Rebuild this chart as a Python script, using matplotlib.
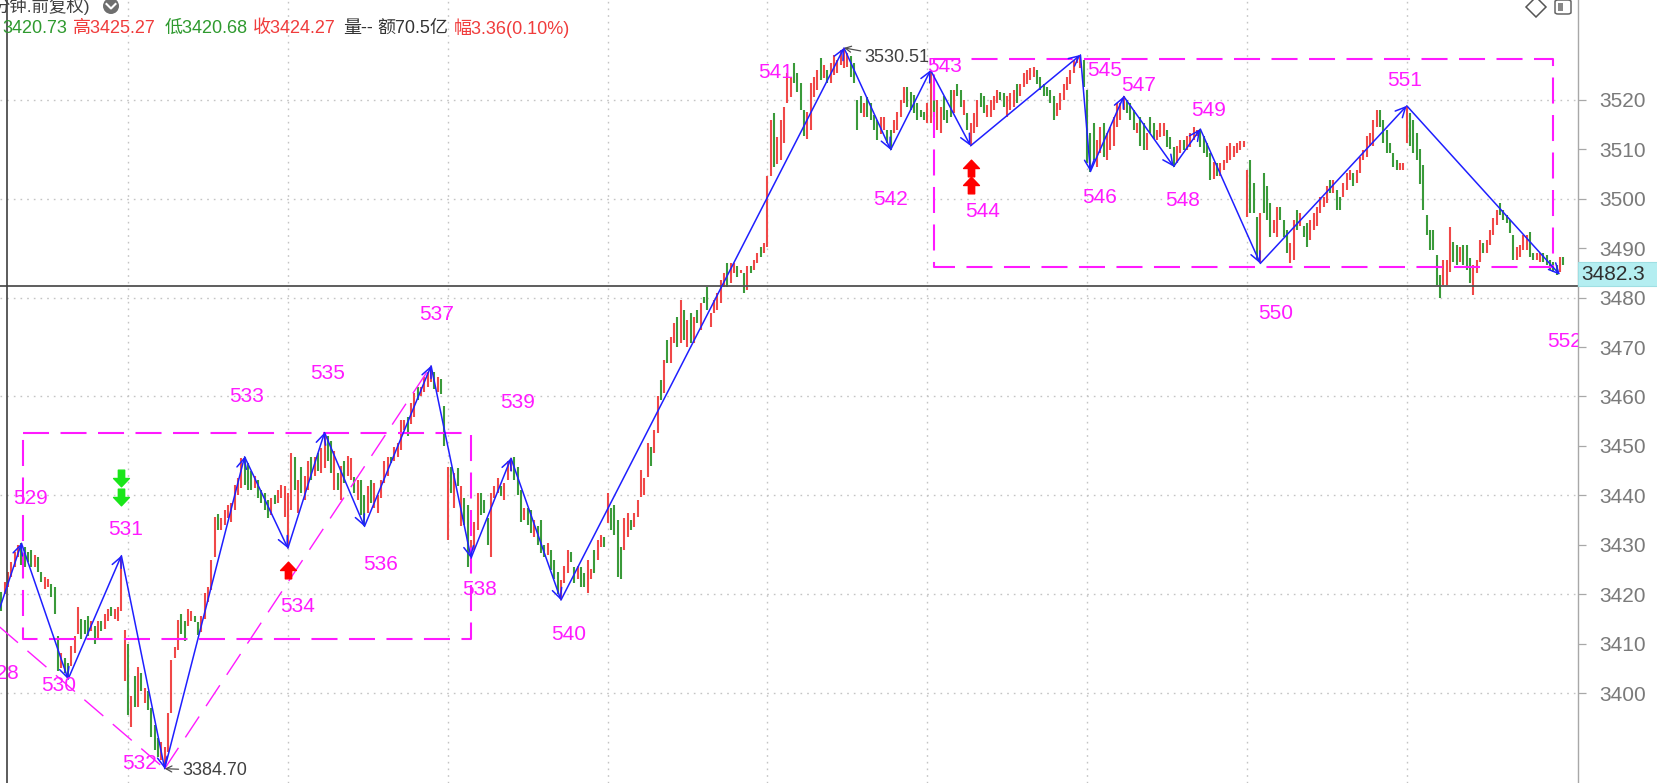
import matplotlib
matplotlib.use("Agg")
import matplotlib.pyplot as plt
from matplotlib.path import Path
from matplotlib.patches import Rectangle, Ellipse, FancyBboxPatch
from matplotlib.lines import Line2D

# ---------------- data ----------------
opens = [
    3420.5, 3420, 3421.5, 3423.5, 3425.5, 3427.5, 3430.3, 3429.5, 3428.5, 3429,
    3425.5, 3427.5, 3424.5, 3421, 3421.5, 3422, 3421.5, 3411.5, 3405, 3407,
    3406, 3405.5, 3408, 3412, 3415, 3414.8, 3415.5, 3412.5, 3413.5, 3411,
    3414.5, 3413, 3414.5, 3417.5, 3415, 3414.5, 3416.5, 3402.5, 3410, 3393.2,
    3403.5, 3397.2, 3404, 3398, 3400.5, 3397, 3393.5, 3391, 3386.5, 3384.7,
    3388, 3396, 3407, 3408.7, 3416, 3414.5, 3413.5, 3414.5, 3415.5, 3414.3,
    3412.3, 3415, 3418.5, 3420.9, 3427.6, 3436.3, 3433, 3434, 3435.5, 3434.5,
    3437, 3440, 3441.5, 3447.8, 3446.5, 3445, 3441.5, 3443, 3441, 3440.5,
    3439, 3436, 3440, 3438.5, 3439.5, 3435.7, 3429.3, 3437, 3447.8, 3436.5,
    3445.8, 3439, 3441, 3447.8, 3444, 3448.5, 3444.5, 3445.5, 3452, 3451,
    3441, 3444.5, 3439, 3447, 3444, 3443, 3443.8, 3439, 3443, 3440,
    3436.5, 3443, 3437.5, 3436.5, 3439.5, 3442.5, 3444, 3447.8, 3447, 3447.8,
    3449.2, 3453.2, 3455.9, 3454.5, 3455.9, 3462, 3460, 3461, 3462, 3463,
    3465, 3461, 3463.5, 3458, 3431, 3445.8, 3437.5, 3445.5, 3433.7, 3439.5,
    3438, 3427.3, 3429, 3433, 3440.4, 3439, 3435.5, 3427.5, 3439.5, 3440.4,
    3441.8, 3439, 3443, 3445, 3447.8, 3445.8, 3441, 3435, 3437.5, 3437,
    3431.5, 3433.7, 3435, 3430, 3428, 3428.9, 3427, 3424.5, 3418.8, 3422.2,
    3424.2, 3428.5, 3425.5, 3423, 3425.5, 3424.2, 3420.2, 3423, 3429, 3427,
    3429.5, 3431.6, 3434.3, 3437.5, 3438, 3435, 3429.5, 3429, 3431.5, 3435,
    3433.5, 3435.7, 3439.7, 3440, 3443.8, 3449.8, 3448.5, 3452.6, 3463.3, 3460.6,
    3471.4, 3466.7, 3470.8, 3476.1, 3470.8, 3477.5, 3470.1, 3476.8, 3470.8, 3477.5,
    3473.5, 3480.2, 3482.2, 3474.1, 3476.8, 3477.5, 3478.9, 3482.2, 3487, 3483,
    3485, 3486.3, 3484.9, 3484.9, 3481.5, 3486.3, 3485.6, 3487, 3490.3, 3489,
    3490.3, 3504.5, 3517.3, 3507, 3507.9, 3511.2, 3519.3, 3520.5, 3527.4, 3525.5,
    3523.4, 3518, 3512, 3513.9, 3520.5, 3522, 3528.4, 3524.5, 3526, 3523.4,
    3525, 3525.4, 3527, 3526.5, 3526.7, 3528.8, 3527.4, 3520, 3520.7, 3516.6,
    3520.5, 3519.3, 3517, 3515.9, 3513, 3514, 3514, 3513.9, 3513.3, 3514,
    3516.6, 3519.3, 3522.7, 3521.5, 3521, 3519.3, 3518, 3517.5, 3515.3, 3515.3,
    3523.3, 3514, 3513.3, 3520.7, 3518, 3522, 3517.3, 3523.3, 3522, 3517,
    3517.3, 3510.7, 3513.3, 3514.6, 3521.4, 3520.7, 3516.6, 3516.6, 3518, 3519.3,
    3521.5, 3521.4, 3516.6, 3518, 3518.6, 3523.3, 3520.7, 3522.7, 3523.3, 3524,
    3524.7, 3526.1, 3524.7, 3523.3, 3522.7, 3522, 3520.7, 3516.8, 3518, 3520,
    3522, 3523.3, 3525.4, 3527.4, 3526.5, 3528, 3522, 3513.3, 3515.3, 3506.5,
    3509.2, 3515.3, 3507.9, 3509.9, 3510.6, 3514.6, 3515.9, 3518, 3520, 3519.3,
    3518, 3513.3, 3516.6, 3515.3, 3509.9, 3516.6, 3515.3, 3511.9, 3512.5, 3512.6,
    3514, 3512.5, 3510.5, 3507.2, 3509.2, 3511.9, 3509.9, 3510.5, 3511.9, 3512.6,
    3514.1, 3512.6, 3511.2, 3509.2, 3504, 3507.2, 3504.5, 3505.8, 3507.2, 3507.9,
    3508.5, 3509.2, 3509.9, 3510.5, 3496.4, 3507.9, 3503.1, 3496.4, 3486.9, 3505.2,
    3502.5, 3499.1, 3493, 3492.3, 3498.4, 3495.7, 3493.7, 3486.9, 3487.6, 3497.7,
    3494.4, 3494.4, 3495, 3491.7, 3493.7, 3494.4, 3497.1, 3498.4, 3499.1, 3503.8,
    3501.1, 3501.8, 3500.4, 3500.4, 3501.8, 3503.8, 3505.2, 3503.1, 3505.2, 3507.9,
    3508.5, 3510.6, 3510.6, 3514.6, 3518, 3516, 3513.9, 3511.2, 3509.2, 3507.9,
    3505.8, 3505.8, 3511.2, 3517.3, 3516, 3513.3, 3510, 3506.8, 3496.7, 3493.7,
    3493.7, 3488.6, 3484.6, 3482.6, 3482.6, 3485.2, 3491.3, 3490.7, 3487.2, 3490.7,
    3490.7, 3488, 3480.5, 3485, 3487.2, 3491, 3489, 3490.7, 3492.7, 3494.7,
    3499.2, 3497.7, 3496.7, 3495.7, 3492.7, 3487.6, 3488.2, 3489.6, 3489.6, 3493.3,
    3489, 3487.6, 3487.2, 3489, 3488.6, 3487.6, 3487.2, 3486.6, 3485.2, 3488.2,
]
closes = [
    3416.5, 3422.5, 3424.5, 3426.5, 3428.5, 3430, 3426, 3425.5, 3426.5, 3425.5,
    3428, 3424.5, 3422.5, 3423.5, 3423, 3419.5, 3416, 3404.5, 3408, 3404,
    3402.8, 3409.5, 3411.5, 3417.5, 3411, 3412, 3411.5, 3414.5, 3410, 3414.5,
    3412.5, 3416, 3417, 3415.5, 3417, 3417.5, 3427.8, 3412.8, 3395.5, 3399.5,
    3397.2, 3405.3, 3400.5, 3401, 3396.6, 3391.2, 3388.5, 3387, 3390, 3389,
    3396, 3406.7, 3409.4, 3414.8, 3412, 3410.5, 3417, 3416.5, 3414.3, 3411.8,
    3415.5, 3420.2, 3421.5, 3426.9, 3435.7, 3433, 3435.5, 3437, 3438, 3438.5,
    3442, 3443.5, 3447.5, 3442, 3441, 3441, 3444, 3439.5, 3438.5, 3437,
    3435.5, 3439.5, 3438.3, 3441, 3442, 3441.8, 3440.4, 3448.5, 3441, 3443,
    3440.4, 3444, 3447, 3443, 3447.8, 3445, 3449.5, 3452.7, 3447, 3444.5,
    3449, 3441, 3446, 3442.5, 3448, 3447.5, 3440.4, 3443, 3436, 3433.7,
    3441.8, 3438.5, 3442.5, 3440, 3443, 3447, 3447.8, 3446.5, 3449.8, 3450.5,
    3455.2, 3455.2, 3451.9, 3458.6, 3460.6, 3459.3, 3462, 3464, 3465, 3466.2,
    3461.5, 3464, 3460.5, 3450, 3445.8, 3440.4, 3444.5, 3441.8, 3441.8, 3434,
    3425.5, 3431, 3434.5, 3440.4, 3436, 3436.5, 3430, 3440.4, 3441.8, 3443.5,
    3439.8, 3442.5, 3447, 3447.5, 3443, 3440, 3434.5, 3437.5, 3434, 3432.3,
    3435, 3430, 3428.3, 3427.6, 3430.3, 3424.9, 3423, 3420, 3422.8, 3425.6,
    3429, 3426.5, 3422.2, 3425.8, 3421.5, 3421.5, 3426.9, 3425, 3424.2, 3431,
    3432, 3429.5, 3440.4, 3433, 3432, 3423.5, 3423, 3435.5, 3436.4, 3433,
    3436.4, 3439, 3445.1, 3443.5, 3450.5, 3446, 3453.2, 3460, 3459.3, 3467.4,
    3466.7, 3472.1, 3474.8, 3470.1, 3479.5, 3471.4, 3475.5, 3470.8, 3476.1, 3474.8,
    3478.9, 3478.9, 3477.5, 3476.8, 3479.5, 3480.9, 3483.6, 3485, 3482.2, 3487,
    3487, 3484.2, 3485.6, 3480.9, 3486.3, 3484.9, 3487.6, 3489, 3488.3, 3491,
    3504.5, 3515.9, 3506.5, 3512.5, 3515.9, 3518.6, 3525.4, 3524.7, 3523.4, 3521.5,
    3518, 3512.6, 3517.5, 3523.4, 3524.7, 3526, 3524, 3527, 3523.5, 3527.4,
    3529, 3528, 3530, 3530.5, 3529.4, 3524.7, 3523.4, 3514, 3517.3, 3519.3,
    3516.6, 3515.9, 3513.9, 3511.9, 3516.6, 3516.6, 3511.2, 3509.9, 3516, 3517.5,
    3520, 3522.7, 3518.6, 3518, 3517.3, 3516, 3516.6, 3516, 3519.3, 3526,
    3516.5, 3520, 3518.6, 3516, 3515.3, 3516.6, 3522, 3520.7, 3518.6, 3520,
    3513.9, 3515.3, 3517.3, 3520, 3518.6, 3517.3, 3519, 3520, 3520.7, 3522,
    3520, 3518.6, 3520.7, 3521.4, 3522, 3519.3, 3523.3, 3525.4, 3526.1, 3526.4,
    3526.7, 3523.3, 3522, 3520.7, 3520.7, 3519.3, 3516, 3519.3, 3521.4, 3523.3,
    3524.7, 3526.1, 3528.1, 3528.8, 3529.1, 3522.7, 3507.2, 3505.5, 3507.9, 3511.9,
    3514.6, 3508.5, 3513.3, 3514.6, 3516.6, 3519.3, 3519.3, 3520.7, 3517.3, 3516,
    3514, 3515.3, 3510.6, 3509.9, 3513.3, 3513.3, 3512, 3514, 3515.3, 3515.3,
    3510.5, 3510, 3506.5, 3510.6, 3511.9, 3509.9, 3512.6, 3513.3, 3514.6, 3513.9,
    3510.5, 3509.2, 3508.5, 3503.8, 3507.5, 3504.5, 3507.2, 3507.9, 3510.6, 3511.2,
    3510.6, 3511.2, 3511.6, 3511.6, 3505.8, 3497.1, 3497.1, 3487.6, 3497.1, 3497.1,
    3495.7, 3492.3, 3495.7, 3498.4, 3495.7, 3492.3, 3489, 3491, 3495.7, 3493.7,
    3497.1, 3492.3, 3490.3, 3495.7, 3497.1, 3498.4, 3500.4, 3500.4, 3502.5, 3501.1,
    3503.8, 3497.7, 3497.7, 3503.1, 3505.2, 3505.8, 3502.5, 3505.8, 3508.5, 3509.9,
    3512.6, 3513.3, 3516, 3518, 3514.6, 3511.2, 3509.2, 3509.2, 3506.5, 3505.8,
    3507.2, 3507.2, 3518.8, 3510.6, 3509.2, 3507.9, 3503, 3497.7, 3492.7, 3489.6,
    3489.6, 3482.6, 3479.9, 3487.6, 3487.6, 3494.3, 3487.1, 3486.6, 3490.3, 3486.6,
    3485.6, 3483, 3486.6, 3487.6, 3491.7, 3489, 3491.7, 3493.7, 3496.1, 3497.7,
    3496.7, 3495.7, 3495, 3493, 3487.6, 3490.3, 3490.7, 3492.7, 3492.7, 3488.2,
    3487.6, 3489, 3489, 3487.2, 3486.6, 3485.6, 3485.2, 3484.6, 3488.2, 3486.6,
]

# zigzag pivots (bar index, price) and their labels
zz_idx = [-2, 6, 20, 36, 49, 73, 86, 97, 109, 129, 141, 153, 168,
          253, 267, 279, 291, 324, 327, 337, 352, 360, 378, 422, 468]
zz_price = [3414.2, 3430.3, 3402.8, 3427.8, 3384.7, 3447.8, 3429.3, 3452.7,
            3433.7, 3466.2, 3427.3, 3447.5, 3418.8, 3530.51, 3509.9, 3526.0,
            3510.7, 3529.1, 3505.5, 3520.7, 3506.5, 3514.1, 3486.9, 3518.8,
            3484.6]
zz_labels = ["528", "529", "530", "531", "532", "533", "534", "535", "536",
             "537", "538", "539", "540", "541", "542", "543", "544", "545",
             "546", "547", "548", "549", "550", "551", "552"]

# dashed boxes
box_left = [6.5, 280]
box_right = [141, 466]
box_low = [3411.0, 3486.1]
box_high = [3452.7, 3528.2]

# dashed trend lines (pairs of pivot numbers)
trend_pairs = [("528", "532"), ("532", "537")]

# signal arrows
sell_x = [36, 36]
sell_y = [3443.6, 3439.7]
buy_x = [86, 291, 291]
buy_y = [3424.8, 3506.2, 3502.8]

# extreme annotations
hi_idx, hi_price, hi_text = 253, 3530.51, "3530.51"
lo_idx, lo_price, lo_text = 49, 3384.70, "3384.70"

# crosshair
cursor_idx = 1.6
cursor_price = 3482.3

# time grid (bar indices) and price ticks
time_grid = [38, 86, 134, 182, 230, 278, 326, 374, 422]
price_ticks = list(range(3400, 3530, 10))
price_grid = list(range(3400, 3540, 20))

header_items = [
    ("3420.73", "g"), ("高3425.27", "r"), ("低3420.68", "g"), ("收3424.27", "r"),
    ("量--", "k"), ("额70.5亿", "k"), ("幅3.36(0.10%)", "r"),
]
header_title = "分钟.前复权)"

# ---------------- styling ----------------
plt.rcParams["font.family"] = ["Liberation Sans", "Noto Sans CJK SC", "DejaVu Sans"]
W, H = 1658, 783
RED = "#f04848"
GREEN = "#3a9a3a"
BLUE = "#1f1fff"
MAG = "#ff1aff"

fig = plt.figure(figsize=(W / 100, H / 100), dpi=100)
fig.patch.set_facecolor("white")
ax_right_px = 1578
ax = fig.add_axes([0, 0, ax_right_px / W, 1])
ax.set_facecolor("white")

bar_px = 3.33
x0 = -1.5 / bar_px
ax.set_xlim(x0, x0 + ax_right_px / bar_px)
ax.set_ylim(3381.8, 3540.2)

# grid
for g in time_grid:
    ax.axvline(g, color="#c4c4c4", lw=1.0, ls=(0, (1.2, 3.6)), zorder=0)
for p in price_grid:
    ax.axhline(p, color="#c4c4c4", lw=1.0, ls=(0, (1.2, 3.6)), zorder=0)

# bars
xs = list(range(len(opens)))
cols = [RED if c >= o else GREEN for o, c in zip(opens, closes)]
lo = [min(o, c) for o, c in zip(opens, closes)]
hi = [max(o, c) for o, c in zip(opens, closes)]
ax.vlines(xs, lo, hi, colors=cols, lw=1.5, zorder=2)

# crosshair
ax.axhline(cursor_price, color="#505050", lw=1.3, zorder=2.5)
ax.axvline(cursor_idx, color="#404040", lw=1.2, zorder=2.5)

# boxes
for l, r, b, t in zip(box_left, box_right, box_low, box_high):
    ax.plot([l, r, r, l, l], [t, t, b, b, t], color=MAG, lw=1.5,
            ls=(0, (12.5, 5.5)), zorder=3, solid_capstyle="butt")

# trend lines
piv = {lab: (x, p) for lab, x, p in zip(zz_labels, zz_idx, zz_price)}
for a, b in trend_pairs:
    (xa, pa), (xb, pb) = piv[a], piv[b]
    ax.plot([xa, xb], [pa, pb], color=MAG, lw=1.0, ls=(0, (18, 9)), zorder=3)

# zigzag with arrowheads
for k in range(len(zz_idx) - 1):
    ax.annotate("", xy=(zz_idx[k + 1], zz_price[k + 1]),
                xytext=(zz_idx[k], zz_price[k]),
                arrowprops=dict(arrowstyle="->,head_length=0.45,head_width=0.22",
                                color=BLUE, lw=1.1, shrinkA=0, shrinkB=0,
                                mutation_scale=16),
                annotation_clip=False, zorder=4)

# pivot labels (offsets in pixels, +y downward)
label_off_px = [(7, 51), (9, -45), (-9.5, 6), (4, -26), (-25, -5), (2.5, -60),
                (10, 58), (3, -59), (16, 38), (6, -51), (8.5, 31), (7, -56),
                (8, 34), (-68, 25), (0, 50), (14, -4), (12, 66), (24, 16),
                (9, 26), (15, -11), (8.5, 34), (8.5, -19), (15, 50), (-2, -25),
                (5, 67)]
for lab, x, p, (dx, dy) in zip(zz_labels, zz_idx, zz_price, label_off_px):
    t = ax.annotate(lab, xy=(x, p), xytext=(dx * 0.72, -dy * 0.72),
                    textcoords="offset points", ha="center", va="center",
                    color=MAG, fontsize=15, annotation_clip=False, zorder=5)
    t.set_clip_on(True)
    t.set_clip_box(ax.bbox)

# signal arrows
up_path = Path([(-0.38, -1), (0.38, -1), (0.38, 0), (0.95, 0), (0, 1),
                (-0.95, 0), (-0.38, 0), (-0.38, -1)],
               [Path.MOVETO] + [Path.LINETO] * 6 + [Path.CLOSEPOLY])
down_path = Path([(x, -y) for x, y in up_path.vertices], up_path.codes)
ax.plot(buy_x, buy_y, ls="none", marker=up_path, ms=12, color="#ff0000",
        mec="#ff0000", zorder=5)
ax.plot(sell_x, sell_y, ls="none", marker=down_path, ms=12, color="#19e619",
        mec="#19e619", zorder=5)

# extreme annotations
ax.annotate(hi_text, xy=(hi_idx, hi_price), xytext=(15, -7), textcoords="offset points",
            ha="left", va="center", color="#404040", fontsize=13,
            arrowprops=dict(arrowstyle="->,head_length=0.35,head_width=0.18",
                            color="#505050", lw=0.9, shrinkA=1, shrinkB=0,
                            mutation_scale=12), zorder=5)
ax.annotate(lo_text, xy=(lo_idx, lo_price), xytext=(13, -1.5), textcoords="offset points",
            ha="left", va="center", color="#404040", fontsize=13,
            arrowprops=dict(arrowstyle="->,head_length=0.35,head_width=0.18",
                            color="#505050", lw=0.9, shrinkA=1, shrinkB=0,
                            mutation_scale=12), zorder=5)

# axis: right ticks
for s in ("left", "top", "bottom"):
    ax.spines[s].set_visible(False)
ax.spines["right"].set_color("#a8a8a8")
ax.spines["right"].set_linewidth(1.0)
ax.set_xticks([])
ax.yaxis.tick_right()
ax.set_yticks(price_ticks)
ax.set_yticklabels([str(v) for v in price_ticks])
ax.tick_params(axis="y", direction="out", length=6, width=0.9, color="#a8a8a8",
               labelcolor="#7a7a7a", labelsize=15, pad=9)

# price box on axis
def fx(px):
    return px / W

def fy(py):
    return 1 - py / H

fig.patches.append(Rectangle((fx(1578), fy(285.5)), fx(80), 23.5 / H,
                             transform=fig.transFigure, facecolor="#b4eef1",
                             edgecolor="#9fdfe3", lw=0.8, zorder=5))
fig.text(fx(1581), fy(274), f"{cursor_price:.1f}", ha="left", va="center",
         fontsize=15, color="#303030", zorder=6)

# header row 1
fig.text(fx(-8), fy(6), header_title, ha="left", va="center", fontsize=12.5,
         color="#404040")
fig.patches.append(Ellipse((fx(111), fy(6)), 16 / W, 16 / H,
                           transform=fig.transFigure, facecolor="#6e6e6e",
                           edgecolor="none"))
fig.lines.append(Line2D([fx(106.5), fx(111), fx(115.5)], [fy(4), fy(8.5), fy(4)],
                        transform=fig.transFigure, color="white", lw=1.5))

# header row 2
cmap = {"g": "#2f9a2f", "r": "#f03c3c", "k": "#333333"}
header_x = [2, 73, 165, 253, 343, 377, 454]
for (txt, c), hx in zip(header_items, header_x):
    fig.text(fx(hx), fy(28.5), txt, ha="left", va="center", fontsize=13,
             color=cmap[c])

# top-right icons
fig.lines.append(Line2D([fx(1536)], [fy(7)], transform=fig.transFigure,
                        marker="D", ms=10, mfc="white", mec="#555555", mew=1.1,
                        ls="none"))
fig.patches.append(FancyBboxPatch((fx(1555), fy(14)), fx(16), 14 / H,
                                  boxstyle="round,pad=0,rounding_size=0.002",
                                  transform=fig.transFigure, facecolor="white",
                                  edgecolor="#666666", lw=1.1))
fig.patches.append(Rectangle((fx(1558), fy(11)), fx(5), 8 / H,
                             transform=fig.transFigure, facecolor="#888888",
                             edgecolor="none"))

fig.savefig("out.png", dpi=100, facecolor="white")
